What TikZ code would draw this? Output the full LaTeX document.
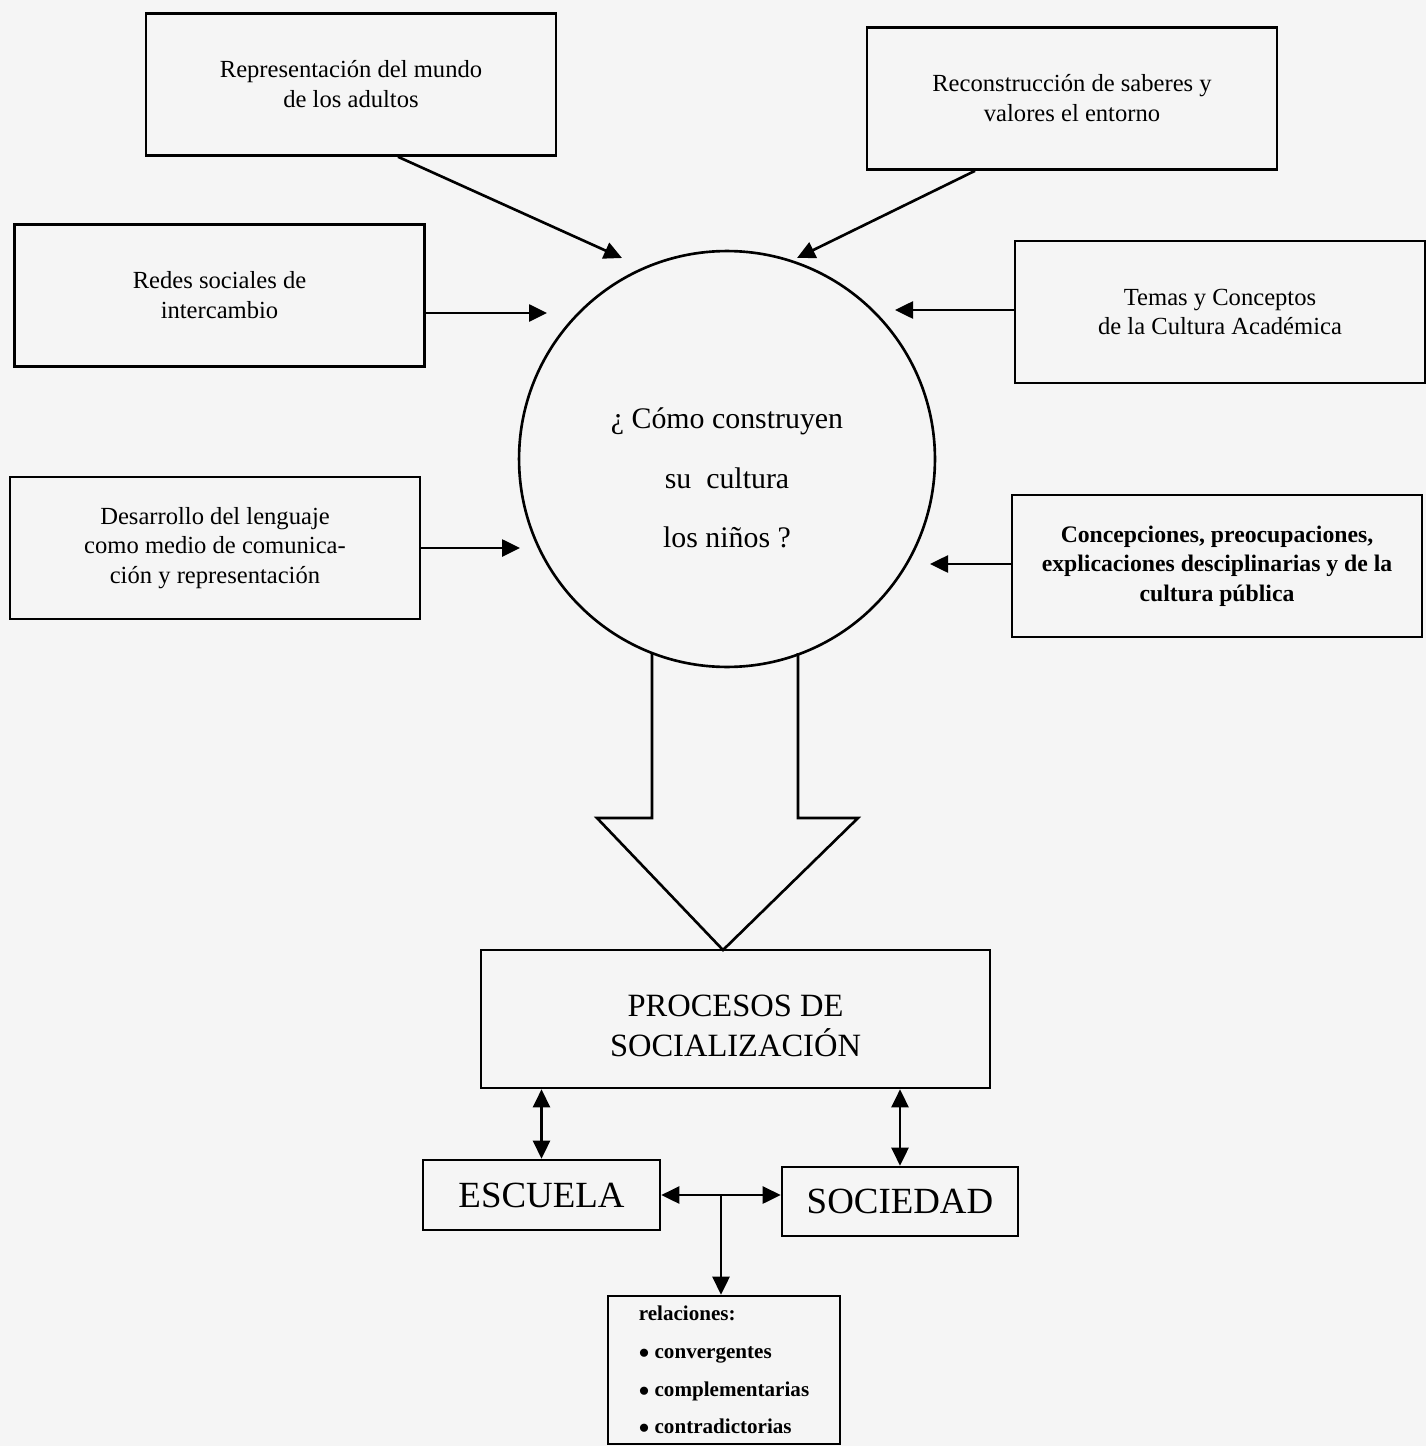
\documentclass[tikz,border=0pt]{standalone}
\usepackage{fontspec}
\setmainfont{Liberation Serif}
\usepackage{tikz}
\usetikzlibrary{arrows.meta,calc}

\begin{document}
\begin{tikzpicture}[
  x=0.02cm, y=-0.02cm, line width=1.5pt,
  font=\fontsize{14}{17}\selectfont,
  caja/.style={draw, align=center, inner sep=4pt, minimum width=8.2cm, minimum height=2.84cm},
  flecha/.style={-{Triangle[length=0.36cm,width=0.34cm]}},
  doble/.style={{Triangle[length=0.36cm,width=0.34cm]}-{Triangle[length=0.36cm,width=0.34cm]}}
]
\useasboundingbox[fill=black!4] (0,0) rectangle (1426,1446);

% cajas de alrededor
\node[caja] (b1) at (351,84.5) {Representación del mundo\\de los adultos};
\node[caja] (b2) at (1072,98.5) {Reconstrucción de saberes y\\valores el entorno};
\node[caja] (b3) at (219.5,295.5) {Redes sociales de\\intercambio};
\node[caja] (b4) at (1220,312) {Temas y Conceptos\\de la Cultura Académica};
\node[caja] (b5) at (215,548) {Desarrollo del lenguaje\\como medio de comunica-\\ción y representación};
\node[caja, font=\fontsize{13.5}{16.8}\selectfont\bfseries] (b6) at (1217,566) {Concepciones, preocupaciones,\\explicaciones desciplinarias y de la\\cultura pública};

% circulo central
\node[draw, circle, minimum size=8.32cm, inner sep=0pt] (circ) at (727,459) {};
\node[align=center, font=\fontsize{17}{34}\selectfont] (preg) at (727,478) {¿ Cómo construyen\\su \ cultura\\los niños ?};

% flecha grande
\draw (652,653) -- (652,818) -- (597,818) -- (723,950) -- (858,818) -- (798,818) -- (798,653);

\node[draw, minimum width=10.18cm, minimum height=2.76cm] (proc) at (735.5,1019) {};
\node[align=center, font=\fontsize{18.5}{23}\selectfont] (proctxt) at (735.5,1026) {PROCESOS DE\\SOCIALIZACIÓN};
\node[draw, minimum width=4.74cm, minimum height=1.4cm, font=\fontsize{21}{24}\selectfont] (esc) at (541.5,1195) {ESCUELA};
\node[draw, minimum width=4.72cm, minimum height=1.38cm, font=\fontsize{21}{24}\selectfont] (soc) at (900,1201.5) {SOCIEDAD};
\node[draw, align=left, minimum width=4.64cm, minimum height=2.96cm,
  font=\fontsize{12}{21.5}\selectfont\bfseries] (rel) at (724,1370) {relaciones:\\$\bullet$ convergentes\\$\bullet$ complementarias\\$\bullet$ contradictorias};

% conectores
\coordinate (t1) at (622,258);
\coordinate (t2) at (797,258);
\coordinate (t3) at (547,313);
\coordinate (t4) at (895,310);
\coordinate (t5) at (520,548);
\coordinate (t6) at (930,564);
\draw[flecha] ($(b1.south)+(47,0)$) -- (t1);
\draw[flecha] ($(b2.south)+(-97,0)$) -- (t2);
\draw[flecha] (b3.east |- t3) -- (t3);
\draw[flecha] (b4.west |- t4) -- (t4);
\draw[flecha] (b5.east |- t5) -- (t5);
\draw[flecha] (b6.west |- t6) -- (t6);

\draw[doble] (esc.north) -- (esc.north |- proc.south);
\draw[doble] (soc.north) -- (soc.north |- proc.south);
\draw[doble] (esc.east) -- (esc.east -| soc.west);
\coordinate (cruce) at ($(esc.east)!0.5!(esc.east -| soc.west)$);
\draw[flecha] (cruce) -- (cruce |- rel.north);
\end{tikzpicture}
\end{document}
